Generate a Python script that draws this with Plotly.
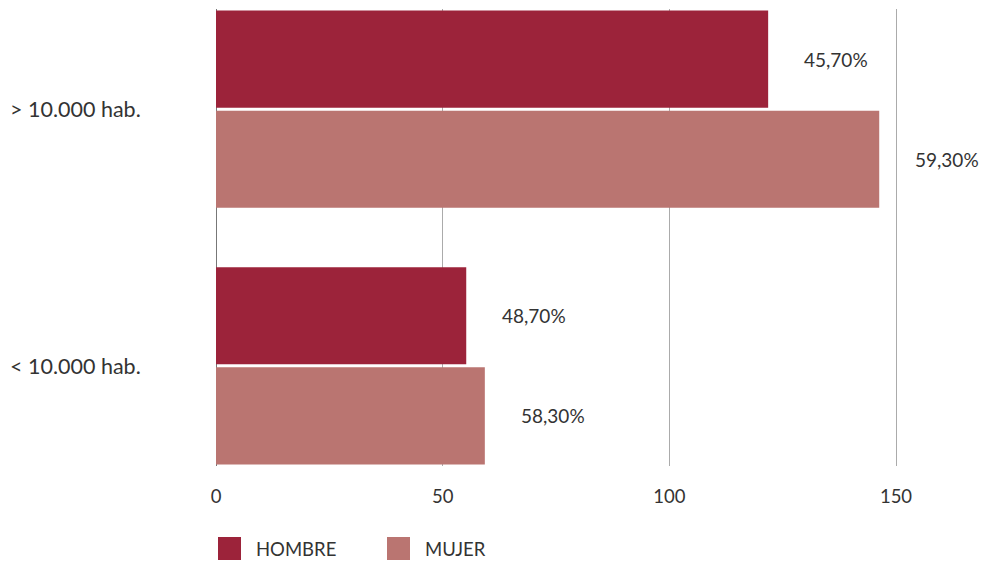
import plotly.graph_objects as go

# Data
categories = ["> 10.000 hab.", "< 10.000 hab."]
series_names = ["HOMBRE", "MUJER"]
hombre_values = [121.8, 55.2]
mujer_values = [146.3, 59.3]
hombre_labels = ["45,70%", "48,70%"]
mujer_labels = ["59,30%", "58,30%"]
tick_values = [0, 50, 100, 150]
tick_labels = ["0", "50", "100", "150"]

colors = {"HOMBRE": "#9c233a", "MUJER": "#ba7571"}
FONT = "Lato, 'Open Sans', sans-serif"
TEXT_COLOR = "#333333"
BARGAP = 0.22

fig = go.Figure()
for name, vals in zip(series_names, [hombre_values, mujer_values]):
    fig.add_trace(go.Bar(
        name=name, y=categories, x=vals, orientation="h",
        marker=dict(color=colors[name], line=dict(width=0)),
        showlegend=False, hoverinfo="skip",
    ))

# Value labels to the right of each bar
slot = (1 - BARGAP) / 2
annotations = []
for i, cat in enumerate(categories):
    for k, (vals, labels) in enumerate([(hombre_values, hombre_labels), (mujer_values, mujer_labels)]):
        annotations.append(dict(
            x=vals[i], y=i + (k - 0.5) * slot, xref="x", yref="y",
            text=labels[i], showarrow=False, xanchor="left", yanchor="middle",
            xshift=34, font=dict(family=FONT, size=19, color=TEXT_COLOR),
        ))

# Category labels, left aligned
plot_w = 982 - 216 - 5
for i, cat in enumerate(categories):
    annotations.append(dict(
        x=(8 - 216) / plot_w, y=i, xref="paper", yref="y",
        text=cat, showarrow=False, xanchor="left", yanchor="middle",
        font=dict(family=FONT, size=21.5, color=TEXT_COLOR),
    ))

# Legend: squares with labels
shapes = []
legend_items = [("HOMBRE", 218, 254), ("MUJER", 387, 423)]
plot_h = 561 - 9 - 95
for name, sx, tx in legend_items:
    x0 = (sx - 216) / plot_w
    x1 = (sx + 23 - 216) / plot_w
    y0 = -(537 - 466) / plot_h
    y1 = -(560 - 466) / plot_h
    shapes.append(dict(type="rect", xref="paper", yref="paper",
                       x0=x0, x1=x1, y0=y1, y1=y0,
                       fillcolor=colors[name], line=dict(width=0)))
    annotations.append(dict(
        x=(tx - 216) / plot_w, y=-(549 - 466) / plot_h, xref="paper", yref="paper",
        text=name, showarrow=False, xanchor="left", yanchor="middle",
        font=dict(family=FONT, size=18.5, color=TEXT_COLOR),
    ))

fig.update_layout(
    width=982, height=561,
    margin=dict(l=216, r=5, t=9, b=95),
    paper_bgcolor="white", plot_bgcolor="white",
    barmode="group", bargap=BARGAP, bargroupgap=0.03,
    annotations=annotations, shapes=shapes,
    showlegend=False,
    xaxis=dict(
        range=[0, plot_w / (680 / 150)],
        tickvals=tick_values, ticktext=tick_labels,
        showgrid=True, gridcolor="#ababab", gridwidth=1,
        zeroline=True, zerolinecolor="#777777", zerolinewidth=1,
        showline=False, ticks="",
        ticklabelstandoff=17,
        tickfont=dict(family=FONT, size=18.5, color=TEXT_COLOR),
    ),
    yaxis=dict(
        type="category", categoryorder="array", categoryarray=categories,
        range=[1 + 0.39, -0.39],
        showticklabels=False, showgrid=False, zeroline=False, showline=False, ticks="",
    ),
)

fig.write_html("out.html")
